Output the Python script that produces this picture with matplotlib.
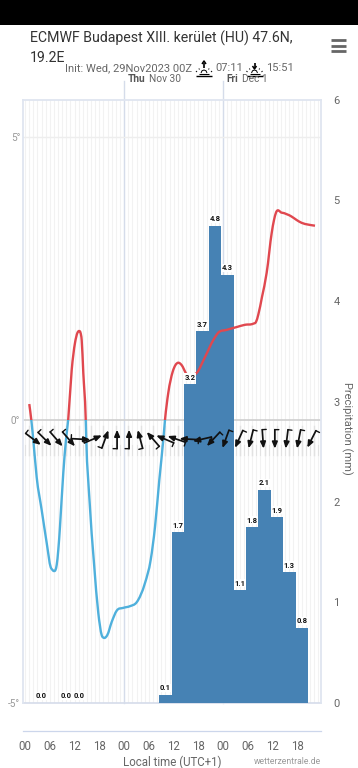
import numpy as np
import matplotlib
matplotlib.use("Agg")
import matplotlib.pyplot as plt
from matplotlib.lines import Line2D
from matplotlib.patches import Rectangle, PathPatch
from matplotlib.path import Path
from matplotlib.transforms import offset_copy, blended_transform_factory

W, H = 358, 768
plt.rcParams['font.family'] = ['Roboto', 'DejaVu Sans']

# temperature trace (hours since Wed 00 local, deg C)
temp_hours = [1.04, 1.53, 2.01, 2.83, 4.04, 5.25, 6.22, 6.66, 7.02, 7.38, 7.68, 8.06, 8.47, 9.27, 9.93,
              10.48, 11.31, 12.11, 12.71, 13.08, 13.44, 13.73, 14.12, 14.70, 14.84, 15.57, 16.71, 17.75,
              18.57, 19.13, 19.93, 20.99, 22.20, 23.80, 25.42, 27.05, 29.06, 30.44, 31.48, 32.52, 33.49,
              33.90, 34.70, 35.76, 36.44, 37.12, 37.65, 38.18, 38.91, 40.19, 41.57, 43.58, 45.59, 46.80,
              48.84, 51.26, 53.27, 55.28, 55.93, 56.49, 57.38, 58.52, 59.73, 60.29, 60.77, 62.15, 64.58,
              65.78, 67.00, 68.52, 70.22]
temp_vals = [0.28, 0.0, -0.35, -1.01, -1.59, -2.17, -2.60, -2.65, -2.67, -2.65, -2.56, -2.30, -1.89, -0.94, -0.35,
             0.02, 0.88, 1.36, 1.54, 1.57, 1.54, 1.41, 0.83, 0.02, -0.35, -1.36, -2.53, -3.41,
             -3.80, -3.85, -3.80, -3.57, -3.37, -3.32, -3.29, -3.22, -2.88, -2.47, -1.89, -1.06, -0.35,
             0.0, 0.48, 0.85, 0.97, 1.01, 0.99, 0.94, 0.83, 0.78, 0.83, 1.11, 1.41, 1.54,
             1.59, 1.64, 1.68, 1.70, 1.73, 1.86, 2.17, 2.60, 3.30, 3.53, 3.66, 3.66, 3.59,
             3.53, 3.48, 3.45, 3.43]

# 3-hourly precipitation, heights, labels as printed
precip_hours = [4, 10, 13, 34, 37, 40, 43, 46, 49, 52, 55, 58, 61, 64, 67]
precip_vals = [0.0, 0.0, 0.0, 0.08, 1.70, 3.17, 3.70, 4.75, 4.26, 1.12, 1.75, 2.12, 1.85, 1.30, 0.75]
precip_labels = ["0.0", "0.0", "0.0", "0.1", "1.7", "3.2", "3.7", "4.8", "4.3", "1.1", "1.8", "2.1", "1.9", "1.3", "0.8"]

# wind arrows: centre hour and heading (deg clockwise from north)
wind_hours = [2.0, 4.8, 7.6, 10.6, 13.5, 16.5, 19.4, 22.3, 25.2, 27.9, 31.0, 33.9, 36.7, 39.7,
              42.9, 45.6, 48.6, 51.8, 54.7, 57.6, 60.5, 63.4, 66.3, 69.4]
wind_heading = [127, 135, 139, 139, 93, 67, 20, 0, 0, 345, 319, 293, 289, 273,
                257, 223, 200, 204, 194, 176, 180, 187, 191, 207]
wind_level = -0.34

xtick_hours = [0, 6, 12, 18, 24, 30, 36, 42, 48, 54, 60, 66]
xtick_labels = ["00", "06", "12", "18", "00", "06", "12", "18", "00", "06", "12", "18"]
day_hours = [24, 48]

fig = plt.figure(figsize=(W / 100, H / 100), dpi=100, facecolor="white")


def fx(x):
    return x / W


def fy(y):
    return 1 - y / H


def ftext(x, y, s, **kw):
    kw.setdefault("va", "center")
    return fig.text(fx(x), fy(y), s, **kw)


def fline(xs, ys, color="black", lw=1.0):
    fig.add_artist(Line2D([fx(v) for v in xs], [fy(v) for v in ys], color=color, lw=lw,
                          transform=fig.transFigure, solid_capstyle="butt"))


def smooth_path(xs, ys):
    # bezier through the read points, so the line bends like the original spline
    xs = np.array(xs)
    ys = np.array(ys)
    m = np.gradient(ys, xs)
    verts = [(xs[0], ys[0])]
    codes = [Path.MOVETO]
    for i in range(len(xs) - 1):
        dx = xs[i + 1] - xs[i]
        verts += [(xs[i] + dx / 3, ys[i] + m[i] * dx / 3),
                  (xs[i + 1] - dx / 3, ys[i + 1] - m[i + 1] * dx / 3),
                  (xs[i + 1], ys[i + 1])]
        codes += [Path.CURVE4] * 3
    return Path(verts, codes)


fig.add_artist(Rectangle((0, fy(25)), 1, 25 / H, transform=fig.transFigure, color="black", lw=0))

rect = [fx(23), fy(703), 298 / W, 603 / H]
ax = fig.add_axes(rect)
ax2 = ax.twinx()
ax.set_zorder(2)
ax2.set_zorder(1)
ax.patch.set_visible(False)
ax2.patch.set_facecolor("white")

ax.set_xlim(-0.48, 71.67)
ax.set_ylim(-5, 5.65)
ax2.set_ylim(0, 6)

# grid, kept on the lower axes so the bars cover it
hgrid = blended_transform_factory(ax2.transAxes, ax.transData)
vgrid = ax2.get_xaxis_transform()
for h in range(0, 72):
    ax2.plot([h, h], [0, 1], transform=vgrid, color="#f2f2f2", lw=0.8, zorder=1)
for h in range(0, 72, 3):
    ax2.plot([h + 1, h + 1], [0.411, 0.459], transform=vgrid, color="#e2e2e2", lw=1.0, zorder=1.5)
for h in range(0, 72):
    ax2.plot([h, h], [0.411, 0.428], transform=vgrid, color="#e2e2e2", lw=0.8, zorder=1.5)
for h in day_hours:
    ax2.plot([h, h], [0, 1.032], transform=vgrid, color="#d5dcea", lw=1.0, zorder=1.6, clip_on=False)
ax2.plot([0, 1], [5, 5], transform=hgrid, color="#eeeeee", lw=1.0, zorder=1.7)
ax2.plot([0, 1], [0, 0], transform=hgrid, color="#cfcfcf", lw=1.2, zorder=1.7)
ax2.plot([0, 1], [-5, -5], transform=hgrid, color="#d5dcea", lw=1.2, zorder=1.7, clip_on=False)

ax2.bar(precip_hours, precip_vals, width=3, color="#4682b4", linewidth=0, zorder=2)

# temperature line, red above zero and blue below
temp_path = smooth_path(temp_hours, temp_vals)
red = PathPatch(temp_path, fill=False, edgecolor="#e0484f", lw=1.7, zorder=3, joinstyle="round")
blue = PathPatch(temp_path, fill=False, edgecolor="#4fb0dc", lw=1.7, zorder=3, joinstyle="round")
ax.add_patch(red)
ax.add_patch(blue)
red.set_clip_path(Rectangle((-1, 0), 80, 6, transform=ax.transData))
blue.set_clip_path(Rectangle((-1, -6), 80, 6, transform=ax.transData))

# wind arrows
for h, deg in zip(wind_hours, wind_heading):
    a = np.radians(deg)
    ux, uy = np.sin(a), np.cos(a)
    half = 9.5
    tail = offset_copy(ax.transData, fig=fig, x=-ux * half, y=-uy * half, units="dots")
    head = offset_copy(ax.transData, fig=fig, x=ux * half, y=uy * half, units="dots")
    tick = offset_copy(ax.transData, fig=fig, x=-ux * half - uy * 4, y=-uy * half + ux * 4, units="dots")
    ax.annotate("", xy=(h, wind_level), xycoords=head, xytext=(h, wind_level), textcoords=tail,
                arrowprops=dict(arrowstyle="-|>,head_length=0.38,head_width=0.16", color="#111111", lw=1.25,
                                shrinkA=0, shrinkB=0, mutation_scale=10), zorder=4)
    ax.annotate("", xy=(h, wind_level), xycoords=tick, xytext=(h, wind_level), textcoords=tail,
                arrowprops=dict(arrowstyle="-", color="#111111", lw=1.0, shrinkA=0, shrinkB=0), zorder=4)

# bar value labels sit above everything else
label_offset = offset_copy(ax2.transData, fig=fig, x=0, y=7, units="dots")
for h, v, s in zip(precip_hours, precip_vals, precip_labels):
    ax.text(h, v, s, transform=label_offset, ha="center", va="center", fontsize=5.5,
            fontweight="bold", color="#111111", zorder=5,
            bbox=dict(facecolor="white", edgecolor="none", pad=0.4))

# axes furniture
for s in ["top", "left", "right", "bottom"]:
    ax2.spines[s].set_visible(False)
    ax.spines[s].set_color("#dfe5f0")
    ax.spines[s].set_linewidth(1.3)
ax.spines["bottom"].set_position(("outward", 28 * 0.72))
ax.spines["bottom"].set_linewidth(0.9)
ax.spines["bottom"].set_color("#ccd6eb")

ax.set_xticks(xtick_hours)
ax.set_xticklabels(xtick_labels)
ax.tick_params(axis="x", length=0, pad=6.5, labelsize=8.3, labelcolor="#666666")
ax.set_yticks([-5, 0, 5])
ax.set_yticklabels(["-5°", "0°", "5°"])
ax.tick_params(axis="y", length=0, pad=2, labelsize=7.2, labelcolor="#999999")
ax2.set_yticks([0, 1, 2, 3, 4, 5, 6])
ax2.tick_params(axis="y", length=0, pad=9, labelsize=8, labelcolor="#666666")

# texts
ftext(30, 38, "ECMWF Budapest XIII. kerület (HU) 47.6N,", fontsize=10.2, color="#333333")
ftext(30, 58.5, "19.2E", fontsize=10.2, color="#333333")
ftext(65, 68, "Init: Wed, 29Nov2023 00Z", fontsize=8, color="#666666")
ftext(215, 68, "07:11", fontsize=8, color="#666666")
ftext(266, 68, "15:51", fontsize=8, color="#666666")
ftext(128, 78.5, "Thu", fontsize=7.3, color="#555555", fontweight="bold")
ftext(149, 78.5, "Nov 30", fontsize=7.3, color="#666666")
ftext(226.5, 78.5, "Fri", fontsize=7.3, color="#555555", fontweight="bold")
ftext(242, 78.5, "Dec 1", fontsize=7.3, color="#666666")
ftext(172, 762, "Local time (UTC+1)", fontsize=8.3, color="#666666", ha="center")
ftext(321, 761, "wetterzentrale.de", fontsize=6.2, color="#999999", ha="right")
ftext(347, 428, "Precipitation (mm)", fontsize=8, color="#666666", ha="center", rotation=270)

# hamburger menu
for y in [40, 45.5, 51]:
    fline([331, 346], [y, y], color="#666666", lw=2.0)

# sunrise and sunset icons
for cx, up in [(204, True), (254.5, False)]:
    fline([cx - 8, cx + 8], [76, 76], lw=1.0)
    fline([cx - 5, cx + 5], [73.5, 73.5], lw=0.8)
    fline([cx - 3, cx - 2, cx, cx + 2, cx + 3], [73, 70.8, 70, 70.8, 73], lw=0.7)
    for dx, y0, y1 in [(-7, 72, 71), (-4.5, 69.5, 68.5), (4.5, 69.5, 68.5), (7, 72, 71)]:
        fline([cx + dx, cx + dx * 1.15], [y0, y1], lw=0.7)
    fline([cx, cx], [63, 68], lw=1.2)
    if up:
        fline([cx - 2, cx, cx + 2], [64, 61, 64], lw=1.1)
    else:
        fline([cx - 2, cx, cx + 2], [66, 69, 66], lw=1.1)

fig.savefig("out.png", dpi=100)
